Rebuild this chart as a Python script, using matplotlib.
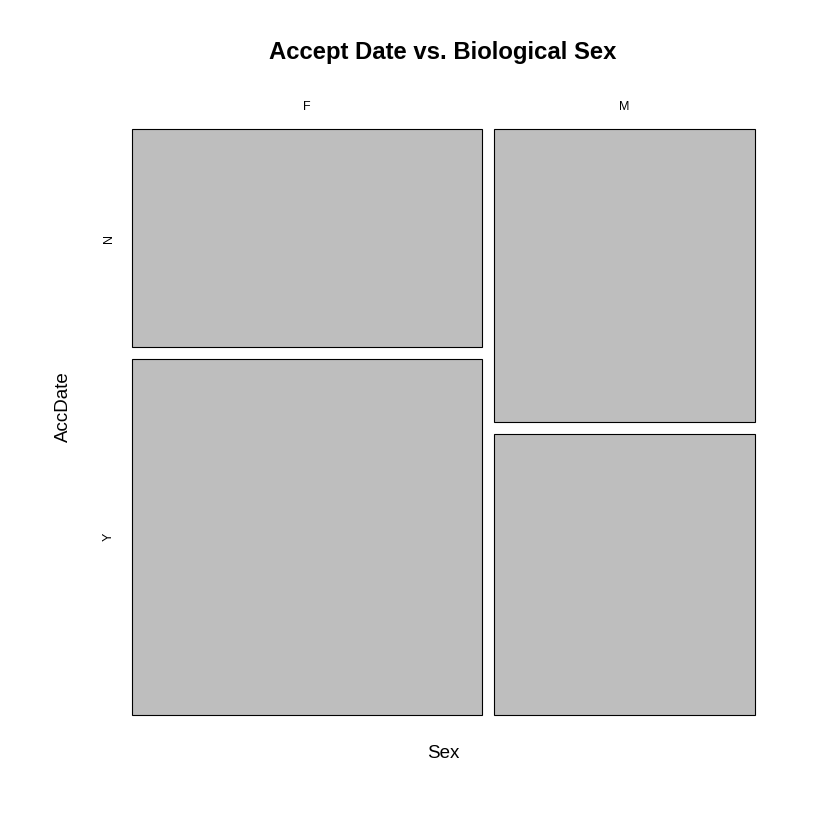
import matplotlib
matplotlib.use("Agg")
import matplotlib.pyplot as plt
from matplotlib.patches import Rectangle

plt.rcParams['font.family'] = ['Liberation Sans', 'DejaVu Sans']

sex = ["F", "M"]
acc = ["N", "Y"]
counts_F = [49, 80]
counts_M = [49, 47]
counts = {"F": counts_F, "M": counts_M}

W = H = 840
fig = plt.figure(figsize=(8.4, 8.4), dpi=100)
left, right, bottom, top = 132, 755, 125, 711
ax = fig.add_axes([left / W, bottom / H, (right - left) / W, (top - bottom) / H])
ax.set_xlim(0, 1)
ax.set_ylim(0, 1)
ax.axis('off')

gx = 12 / (right - left)
gy = 12 / (top - bottom)

totals = [sum(counts[s]) for s in sex]
grand = sum(totals)
x0 = 0.0
avail_x = 1 - gx * (len(sex) - 1)
for i, s in enumerate(sex):
    w = avail_x * totals[i] / grand
    avail_y = 1 - gy * (len(acc) - 1)
    ytop = 1.0
    for j, a in enumerate(acc):
        h = avail_y * counts[s][j] / totals[i]
        ax.add_patch(Rectangle((x0, ytop - h), w, h, facecolor='#BEBEBE',
                               edgecolor='black', linewidth=0.8, clip_on=False))
        if i == 0:
            ax.text(-23 / (right - left), ytop - h / 2, a, fontsize=9, rotation=90,
                    ha='center', va='center')
        ytop -= h + gy
    ax.text(x0 + w / 2, 1 + 22 / (top - bottom), s, fontsize=9, ha='center', va='center')
    x0 += w + gx

fig.text(443 / W, 1 - 52 / H, "Accept Date vs. Biological Sex", fontsize=17.2,
         fontweight='bold', ha='center', va='center')
fig.text(443 / W, 1 - 754 / H, "Sex", fontsize=13.5, ha='center', va='center')
fig.text(63 / W, 1 - 407 / H, "AccDate", fontsize=13.5, rotation=90, ha='center', va='center')

fig.savefig("out.png", dpi=100, facecolor='white')
